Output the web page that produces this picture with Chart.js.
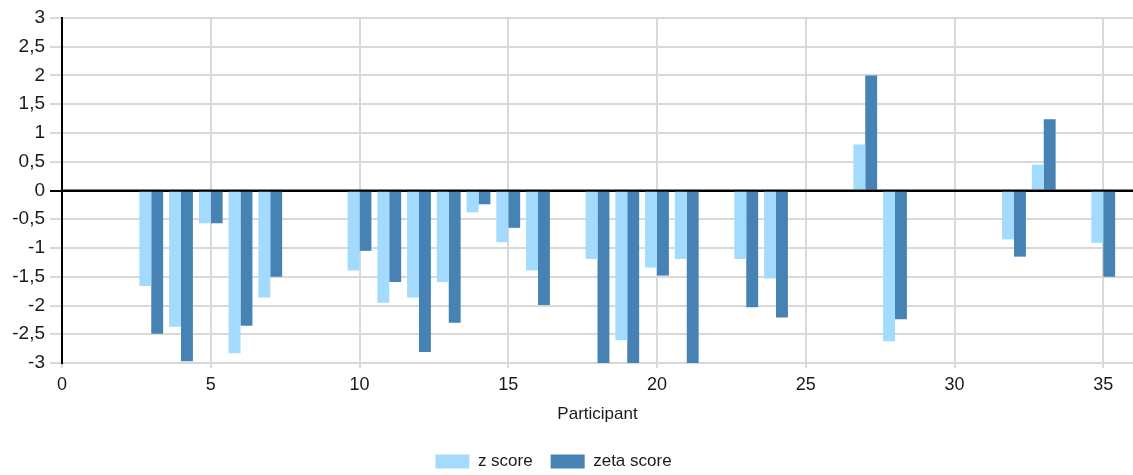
<!DOCTYPE html>
<html>
<head>
<meta charset="utf-8">
<script src="https://cdn.jsdelivr.net/npm/chart.js@4/dist/chart.umd.min.js"></script>
<style>
  html, body { margin: 0; padding: 0; background: #fff; }
  #wrap { width: 1133px; height: 475px; position: relative; }
</style>
</head>
<body>
<div id="wrap"><canvas id="grafico"></canvas></div>
<script>
const participants = [3, 4, 5, 6, 7, 10, 11, 12, 13, 14, 15, 16, 18, 19, 20, 21, 23, 24, 27, 28, 32, 33, 35];
const zScores    = [-1.66, -2.37, -0.57, -2.83, -1.86, -1.39, -1.95, -1.86, -1.59, -0.38, -0.90, -1.39, -1.19, -2.60, -1.34, -1.19, -1.19, -1.53, 0.80, -2.62, -0.85, 0.45, -0.91];
const zetaScores = [-2.49, -2.97, -0.57, -2.35, -1.50, -1.05, -1.59, -2.81, -2.30, -0.24, -0.65, -1.99, -3.00, -3.00, -1.48, -3.00, -2.03, -2.21, 2.00, -2.24, -1.15, 1.24, -1.50];
const yTicks = [-3, -2.5, -2, -1.5, -1, -0.5, 0, 0.5, 1, 1.5, 2, 2.5, 3];
const xTicks = [0, 5, 10, 15, 20, 25, 30, 35];

const ctx = document.getElementById('grafico');
const gridGrey = '#d9d9d9';
const textCol = '#1a1a1a';
const fontFam = 'Liberation Sans, Arial, sans-serif';

const data = {
    datasets: [{
        label: 'z score',
        data: participants.map((p, i) => ({ x: p, y: zScores[i] })),
        backgroundColor: '#a2dbfd'
    }, {
        label: 'zeta score',
        data: participants.map((p, i) => ({ x: p, y: zetaScores[i] })),
        backgroundColor: '#4682b4'
    }]
};

const options = {
    responsive: true,
    maintainAspectRatio: false,
    animation: false,
    layout: {
        padding: { top: 18, right: 0, left: 0, bottom: -5 }
    },
    datasets: {
        bar: {
            categoryPercentage: 0.8,
            barPercentage: 1.0
        }
    },
    plugins: {
        tooltip: { enabled: false },
        legend: {
            position: 'bottom',
            labels: {
                boxWidth: 34,
                boxHeight: 14,
                padding: 18,
                color: textCol,
                font: { family: fontFam, size: 17 }
            }
        }
    },
    scales: {
        x: {
            type: 'linear',
            min: 0,
            max: 36,
            offset: false,
            afterBuildTicks: (scale) => {
                scale.ticks = xTicks.map(v => ({ value: v }));
            },
            afterFit: (scale) => { scale.height = 72; },
            grid: {
                offset: false,
                color: gridGrey,
                lineWidth: 2,
                tickLength: 5
            },
            border: { display: true, color: gridGrey, width: 2 },
            ticks: {
                color: textCol,
                padding: 6,
                maxRotation: 0,
                font: { family: fontFam, size: 18 }
            },
            title: {
                display: true,
                text: 'Participant',
                color: textCol,
                padding: { top: 8, bottom: 10 },
                font: { family: fontFam, size: 17 }
            }
        },
        y: {
            min: -3,
            max: 3,
            afterBuildTicks: (scale) => {
                scale.ticks = yTicks.map(v => ({ value: v }));
            },
            afterFit: (scale) => { scale.width = 62; },
            grid: {
                color: (c) => c.tick && c.tick.value === 0 ? '#000' : gridGrey,
                lineWidth: 2,
                tickLength: 12
            },
            border: { color: '#000', width: 2, z: 1 },
            ticks: {
                color: textCol,
                padding: 5,
                font: { family: fontFam, size: 19 },
                callback: (v) => String(v).replace('.', ',')
            }
        }
    }
};

// zero line drawn again above the bars, legend nudged left
const extras = {
    id: 'extras',
    afterLayout(chart) {
        chart.legend.left -= 13;
        chart.legend.right -= 13;
    },
    afterDatasetsDraw(chart) {
        const { ctx, chartArea, scales } = chart;
        const y0 = scales.y.getPixelForValue(0);
        ctx.save();
        ctx.strokeStyle = '#000';
        ctx.lineWidth = 2;
        ctx.beginPath();
        ctx.moveTo(chartArea.left, y0);
        ctx.lineTo(chartArea.right, y0);
        ctx.stroke();
        ctx.restore();
    }
};

const myChart = new Chart(ctx, {
    type: 'bar',
    data: data,
    options: options,
    plugins: [extras]
});
</script>
</body>
</html>
